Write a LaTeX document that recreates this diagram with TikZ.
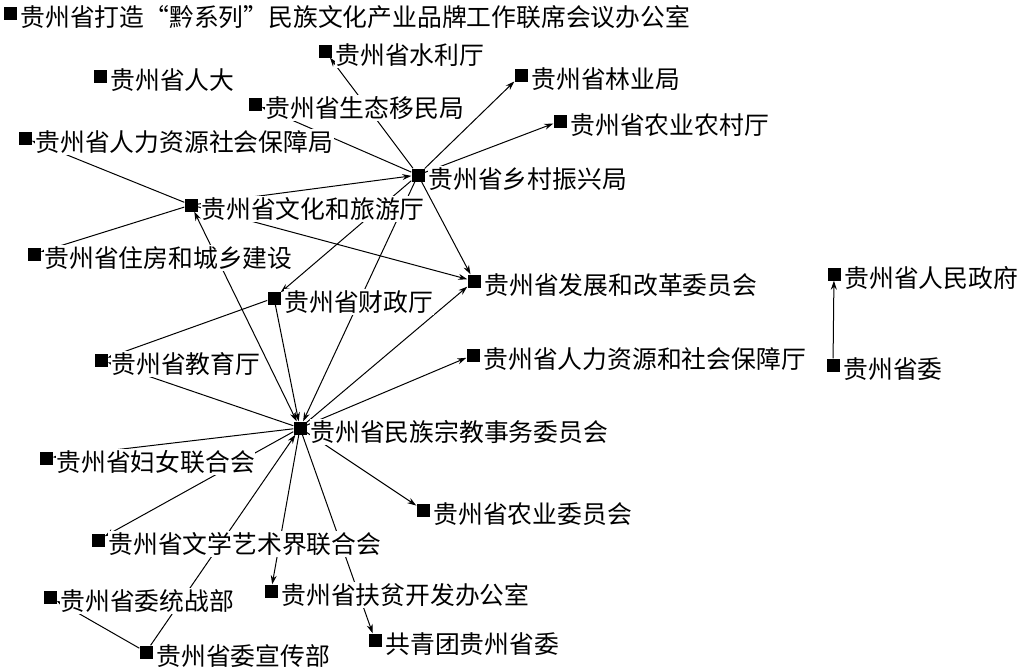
\documentclass[tikz,border=0pt]{standalone}
\usepackage{fontspec}
\setmainfont{Noto Sans CJK SC}
\usetikzlibrary{arrows.meta}
\pgfdeclarelayer{background}
\pgfsetlayers{background,main}
\begin{document}
\begin{tikzpicture}[x=1pt,y=-1pt,
  sq/.style={fill=black,draw=none,inner sep=0pt,minimum size=13pt},
  lab/.style={fill=white,inner xsep=0.5pt,inner ysep=0pt,text height=22.5pt,text depth=4pt,
    anchor=base west,font=\fontsize{24.8pt}{26pt}\selectfont},
  edge/.style={line width=1pt,-{Stealth[length=9pt,width=6pt]}},
  edgeb/.style={line width=1pt,{Stealth[length=9pt,width=6pt]}-{Stealth[length=9pt,width=6pt]}}]
\useasboundingbox (0,0) rectangle (1019,670);
% squares
\node[sq] (q0) at (10,13) {};
\node[sq] (sl) at (325,51) {};
\node[sq] (rd) at (100,76) {};
\node[sq] (ly) at (521,75) {};
\node[sq] (st) at (255,104) {};
\node[sq] (nync) at (560,121) {};
\node[sq] (rlj) at (25,138) {};
\node[sq] (xc) at (418,175) {};
\node[sq] (wl) at (191,205) {};
\node[sq] (zf) at (34,254) {};
\node[sq] (fg) at (474,281) {};
\node[sq] (zfu) at (834,274) {};
\node[sq] (cz) at (274,298) {};
\node[sq] (jy) at (101,360) {};
\node[sq] (rst) at (473,355) {};
\node[sq] (sw) at (833,365) {};
\node[sq] (mz) at (300,428) {};
\node[sq] (fn) at (46,458) {};
\node[sq] (nw) at (423,510) {};
\node[sq] (wx) at (98,540) {};
\node[sq] (tz) at (50,597) {};
\node[sq] (fp) at (271,591) {};
\node[sq] (gqt) at (375,640) {};
\node[sq] (xcb) at (146,652) {};
% labels
\node[lab] (lq0) at ([xshift=3pt,yshift=-13pt]q0.east) {贵州省打造“黔系列”民族文化产业品牌工作联席会议办公室};
\node[lab] (lsl) at ([xshift=3pt,yshift=-13pt]sl.east) {贵州省水利厅};
\node[lab] (lrd) at ([xshift=3pt,yshift=-13pt]rd.east) {贵州省人大};
\node[lab] (lly) at ([xshift=3pt,yshift=-13pt]ly.east) {贵州省林业局};
\node[lab] (lst) at ([xshift=3pt,yshift=-13pt]st.east) {贵州省生态移民局};
\node[lab] (lnync) at ([xshift=3pt,yshift=-13pt]nync.east) {贵州省农业农村厅};
\node[lab] (lrlj) at ([xshift=3pt,yshift=-13pt]rlj.east) {贵州省人力资源社会保障局};
\node[lab] (lxc) at ([xshift=3pt,yshift=-13pt]xc.east) {贵州省乡村振兴局};
\node[lab] (lwl) at ([xshift=3pt,yshift=-13pt]wl.east) {贵州省文化和旅游厅};
\node[lab] (lzf) at ([xshift=3pt,yshift=-13pt]zf.east) {贵州省住房和城乡建设};
\node[lab] (lfg) at ([xshift=3pt,yshift=-13pt]fg.east) {贵州省发展和改革委员会};
\node[lab] (lzfu) at ([xshift=3pt,yshift=-13pt]zfu.east) {贵州省人民政府};
\node[lab] (lcz) at ([xshift=3pt,yshift=-13pt]cz.east) {贵州省财政厅};
\node[lab] (ljy) at ([xshift=3pt,yshift=-13pt]jy.east) {贵州省教育厅};
\node[lab] (lrst) at ([xshift=3pt,yshift=-13pt]rst.east) {贵州省人力资源和社会保障厅};
\node[lab] (lsw) at ([xshift=3pt,yshift=-13pt]sw.east) {贵州省委};
\node[lab] (lmz) at ([xshift=3pt,yshift=-13pt]mz.east) {贵州省民族宗教事务委员会};
\node[lab] (lfn) at ([xshift=3pt,yshift=-13pt]fn.east) {贵州省妇女联合会};
\node[lab] (lnw) at ([xshift=3pt,yshift=-13pt]nw.east) {贵州省农业委员会};
\node[lab] (lwx) at ([xshift=3pt,yshift=-13pt]wx.east) {贵州省文学艺术界联合会};
\node[lab] (ltz) at ([xshift=3pt,yshift=-13pt]tz.east) {贵州省委统战部};
\node[lab] (lfp) at ([xshift=3pt,yshift=-13pt]fp.east) {贵州省扶贫开发办公室};
\node[lab] (lgqt) at ([xshift=3pt,yshift=-13pt]gqt.east) {共青团贵州省委};
\node[lab] (lxcb) at ([xshift=3pt,yshift=-13pt]xcb.east) {贵州省委宣传部};
% edges
\begin{pgfonlayer}{background}
\fill[white] (0,0) rectangle (1019,670);
\draw[edge] (xc) -- (sl);
\draw[edge] (xc) -- (st);
\draw[edge] (xc) -- (ly);
\draw[edge] (xc) -- (nync);
\draw[edge] (xc) -- (fg);
\draw[edge] (xc) -- (cz);
\draw[edge] (xc) -- (mz);
\draw[edge] (wl) -- (xc);
\draw[edge] (wl) -- (fg);
\draw[edgeb] (wl) -- (mz);
\draw[edge] (wl) -- (rlj);
\draw[edge] (wl) -- (zf);
\draw[edge] (cz) -- (mz);
\draw[edge] (cz) -- (jy);
\draw[edge] (mz) -- (jy);
\draw[edge] (mz) -- (fg);
\draw[edge] (mz) -- (rst);
\draw[edge] (mz) -- (fn);
\draw[edge] (mz) -- (wx);
\draw[edge] (xcb) -- (mz);
\draw[edge] (xcb) -- (tz);
\draw[edge] (mz) -- (fp);
\draw[edge] (mz) -- (gqt);
\draw[edge] (mz) -- (nw);
\draw[edge] (sw) -- (zfu);
\end{pgfonlayer}
\end{tikzpicture}
\end{document}
